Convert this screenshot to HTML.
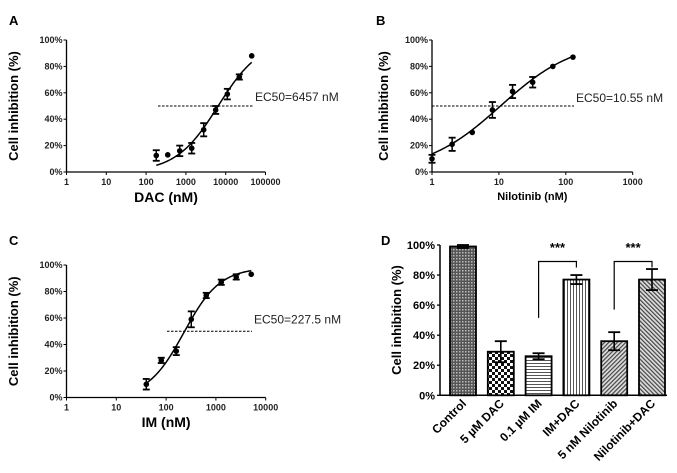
<!DOCTYPE html>
<html><head><meta charset="utf-8"><style>
body{margin:0;background:#fff;}
svg{display:block;font-family:"Liberation Sans",Arial,sans-serif;}
.tk{font-size:9px;font-weight:bold;fill:#222;}
.pl{font-size:13px;font-weight:bold;}
</style></head><body>
<svg id="fig" width="677" height="473" viewBox="0 0 677 473" xmlns="http://www.w3.org/2000/svg">
<defs>
<pattern id="pCross" width="3" height="3" patternUnits="userSpaceOnUse"><rect width="3" height="3" fill="#555"/><rect width="1.5" height="1.5" fill="#bbb"/></pattern>
<pattern id="pCheck" width="6" height="6" patternUnits="userSpaceOnUse"><rect width="6" height="6" fill="#fff"/><rect width="3" height="3" fill="#111"/><rect x="3" y="3" width="3" height="3" fill="#111"/></pattern>
<pattern id="pHor" width="4" height="3" patternUnits="userSpaceOnUse"><rect width="4" height="3" fill="#fff"/><rect width="4" height="1" fill="#555"/></pattern>
<pattern id="pVer" width="3" height="4" patternUnits="userSpaceOnUse"><rect width="3" height="4" fill="#fff"/><rect width="1" height="4" fill="#555"/></pattern>
<pattern id="pDiag" width="3" height="3" patternUnits="userSpaceOnUse" patternTransform="rotate(45)"><rect width="3" height="3" fill="#ddd"/><rect width="1.2" height="3" fill="#444"/></pattern>
<pattern id="pDiag2" width="3" height="3" patternUnits="userSpaceOnUse" patternTransform="rotate(-45)"><rect width="3" height="3" fill="#ddd"/><rect width="1.2" height="3" fill="#444"/></pattern>
</defs>
<g id="root"></g>
</svg>
<script>
// Panel A data (DAC)
const aConc = [180, 350, 700, 1400, 2800, 5600, 11000, 22000, 45000];
const aMean = [12.5, 13, 16, 18, 32, 47, 59, 72, 88];
const aErr = [4, 0, 4, 4, 5, 3, 4, 2, 0];
const aTicks = ["1","10","100","1000","10000","100000"];
// Panel B data (Nilotinib)
const bConc = [1, 2, 4, 8, 16, 32, 64, 128];
const bMean = [10, 21, 30, 47, 61, 68, 80, 87];
const bErr = [3, 5, 0, 6, 5, 4, 0, 0];
const bTicks = ["1","10","100","1000"];
// Panel C data (IM)
const cConc = [40, 80, 160, 320, 640, 1280, 2560, 5120];
const cMean = [10, 28, 35, 59, 77, 87, 91, 93];
const cErr = [4, 2, 3, 6, 2, 2, 2, 0];
const cTicks = ["1","10","100","1000","10000"];
// Panel D data
const dCats = ["Control","5 µM DAC","0.1 µM IM","IM+DAC","5 nM Nilotinib","Nilotinib+DAC"];
const dMean = [99, 29, 26, 77, 36, 77];
const dErr = [1, 7, 2, 3, 6, 7];
const yTicks = ["0%","20%","40%","60%","80%","100%"];

const NS="http://www.w3.org/2000/svg";
const root=document.getElementById('root');
function el(tag,attrs,parent,text){const e=document.createElementNS(NS,tag);for(const k in attrs)e.setAttribute(k,attrs[k]);if(text!==undefined)e.textContent=text;(parent||root).appendChild(e);return e;}

function curvePanel(cfg){
  const g=el('g',{});
  
  
  const x=v=>cfg.x0+Math.log10(v)*cfg.dec;
  const y=v=>cfg.y0-(v/100)*(cfg.y0-cfg.y1);
  const xmax=cfg.x0+(cfg.ticks.length-1)*cfg.dec;
  const ax=el('g',{},g);
  
  el('line',{x1:cfg.x0,y1:cfg.y1,x2:cfg.x0,y2:cfg.y0,stroke:'#000','stroke-width':1.3},ax);
  yTicks.forEach((t,i)=>{const yy=y(i*20);el('line',{x1:cfg.x0-3,y1:yy,x2:cfg.x0,y2:yy,stroke:'#000'},ax);
    const tx=el('text',{x:cfg.x0-4,y:yy+3,'text-anchor':'end',class:'tk'},ax,t);
    });
  const xa=el('g',{},g);
  
  el('line',{x1:cfg.x0,y1:cfg.y0,x2:xmax,y2:cfg.y0,stroke:'#000','stroke-width':1.3},xa);
  cfg.ticks.forEach((t,i)=>{const xx=cfg.x0+i*cfg.dec;el('line',{x1:xx,y1:cfg.y0,x2:xx,y2:cfg.y0+3,stroke:'#000'},xa);
    const tx=el('text',{x:xx,y:cfg.y0+13,'text-anchor':'middle',class:'tk'},xa,t);
    });
  const yt=el('text',{x:cfg.ytx,y:(cfg.y0+cfg.y1)/2,'text-anchor':'middle','font-size':13,'font-weight':'bold',transform:`rotate(-90 ${cfg.ytx} ${(cfg.y0+cfg.y1)/2})`},g,'Cell inhibition (%)');
  
  const xt=el('text',{x:(cfg.x0+xmax)/2,y:cfg.xty,'text-anchor':'middle','font-size':cfg.xfs,'font-weight':'bold'},g,cfg.xtitle);
  
  const pl=el('text',{x:cfg.lx,y:cfg.ly,class:'pl'},g,cfg.letter);
  
  const dl=el('line',{x1:cfg.dx1,y1:y(50),x2:cfg.dx2,y2:y(50),stroke:'#000','stroke-dasharray':'2.5,1.5'},g);
  
  const et=el('text',{x:cfg.dx2+2,y:y(50)-cfg.ety,'font-size':12,fill:'#222'},g,cfg.ectext);
  
  let d='';const lo=Math.log10(cfg.conc[0]),hi=Math.log10(cfg.conc[cfg.conc.length-1]);
  for(let i=0;i<=100;i++){const lv=lo+(hi-lo)*i/100;const c=Math.pow(10,lv);
    const r=cfg.top/(1+Math.pow(cfg.ec50/c,cfg.h));d+=(i?'L':'M')+x(c).toFixed(2)+','+y(r).toFixed(2);}
  const cv=el('path',{d:d,fill:'none',stroke:'#000','stroke-width':1.5},g);
  
  cfg.conc.forEach((c,i)=>{const pg=el('g',{},g);
    
    const xx=x(c),m=cfg.mean[i],e=cfg.err[i];
    if(e>0){el('line',{x1:xx,y1:y(m+e),x2:xx,y2:y(m-e),stroke:'#000','stroke-width':1.5},pg);
      el('line',{x1:xx-3.5,y1:y(m+e),x2:xx+3.5,y2:y(m+e),stroke:'#000','stroke-width':1.8},pg);
      el('line',{x1:xx-3.5,y1:y(m-e),x2:xx+3.5,y2:y(m-e),stroke:'#000','stroke-width':1.8},pg);}
    el('circle',{cx:xx,cy:y(m),r:2.8,fill:'#000'},pg);});
}

curvePanel({name:'panel-a-dac',x0:66.5,dec:39.8,y0:172,y1:40,ticks:aTicks,conc:aConc,mean:aMean,err:aErr,
  ec50:6457,h:0.82,top:100,dx1:158,dx2:253,ectext:'EC50=6457 nM',ety:5,ytx:18,xty:202,xfs:14,xtitle:'DAC (nM)',lx:9,ly:25,letter:'A'});
curvePanel({name:'panel-b-nilotinib',x0:432,dec:66.9,y0:172,y1:40,ticks:bTicks,conc:bConc,mean:bMean,err:bErr,
  ec50:10.55,h:0.78,top:100,dx1:432,dx2:574,ectext:'EC50=10.55 nM',ety:4,ytx:388,xty:200,xfs:11,xtitle:'Nilotinib (nM)',lx:376,ly:25,letter:'B'});
curvePanel({name:'panel-c-im',x0:66.5,dec:49.8,y0:397.5,y1:265,ticks:cTicks,conc:cConc,mean:cMean,err:cErr,
  ec50:227.5,h:1.2,top:98,dx1:167,dx2:252,ectext:'EC50=227.5 nM',ety:8,ytx:18,xty:427,xfs:14,xtitle:'IM (nM)',lx:9,ly:245,letter:'C'});

(function(){
  const g=el('g',{});
  
  const x0=440,y0=395.3,y1=245,xEnd=667,first=463,step=37.8,bw=26;
  const y=v=>y0-(v/100)*(y0-y1);
  const xc=i=>first+i*step;
  const fills=['url(#pCross)','url(#pCheck)','url(#pHor)','url(#pVer)','url(#pDiag)','url(#pDiag2)'];
  const ax=el('g',{},g);
  el('line',{x1:x0,y1:y1,x2:x0,y2:y0,stroke:'#000','stroke-width':1.5},ax);
  yTicks.forEach((t,i)=>{const yy=y(i*20);el('line',{x1:x0-3,y1:yy,x2:x0,y2:yy,stroke:'#000','stroke-width':1.3},ax);
    const tx=el('text',{x:x0-5,y:yy+4,'text-anchor':'end','font-size':11,'font-weight':'bold'},ax,t);
    });
  const xa=el('line',{x1:x0,y1:y0,x2:xEnd,y2:y0,stroke:'#000','stroke-width':1.5},g);
  
  const yt=el('text',{x:401,y:320,'text-anchor':'middle','font-size':13,'font-weight':'bold',transform:'rotate(-90 401 320)'},g,'Cell inhibition (%)');
  
  const pl=el('text',{x:381,y:245,class:'pl'},g,'D');
  
  dCats.forEach((c,i)=>{const cx=xc(i);
    const b=el('rect',{x:cx-bw/2,y:y(dMean[i]),width:bw,height:y0-y(dMean[i]),fill:fills[i],stroke:'#000','stroke-width':1.8},g);
    
    const e=el('g',{},g);
    el('line',{x1:cx,y1:y(dMean[i]+dErr[i]),x2:cx,y2:y(dMean[i]-dErr[i]),stroke:'#000','stroke-width':1.6},e);
    el('line',{x1:cx-6,y1:y(dMean[i]+dErr[i]),x2:cx+6,y2:y(dMean[i]+dErr[i]),stroke:'#000','stroke-width':1.8},e);
    el('line',{x1:cx-6,y1:y(dMean[i]-dErr[i]),x2:cx+6,y2:y(dMean[i]-dErr[i]),stroke:'#000','stroke-width':1.8},e);
    const t=el('text',{x:cx+4,y:y0+9,'text-anchor':'end','font-size':12,'font-weight':'bold',transform:`rotate(-45 ${cx+4} ${y0+9})`},g,c);
    });
  [[2,3,51.5],[4,5,57]].forEach(p=>{const bg=el('g',{},g);
    
    const a=xc(p[0]),b=xc(p[1]),top=y(89);
    el('path',{d:`M${a},${y(p[2])}L${a},${top}L${b},${top}L${b},${y(85)}`,fill:'none',stroke:'#000','stroke-width':1.2},bg);
    el('text',{x:(a+b)/2,y:252,'text-anchor':'middle','font-size':13,'font-weight':'bold'},bg,'***');});
})();
</script>
</body></html>
